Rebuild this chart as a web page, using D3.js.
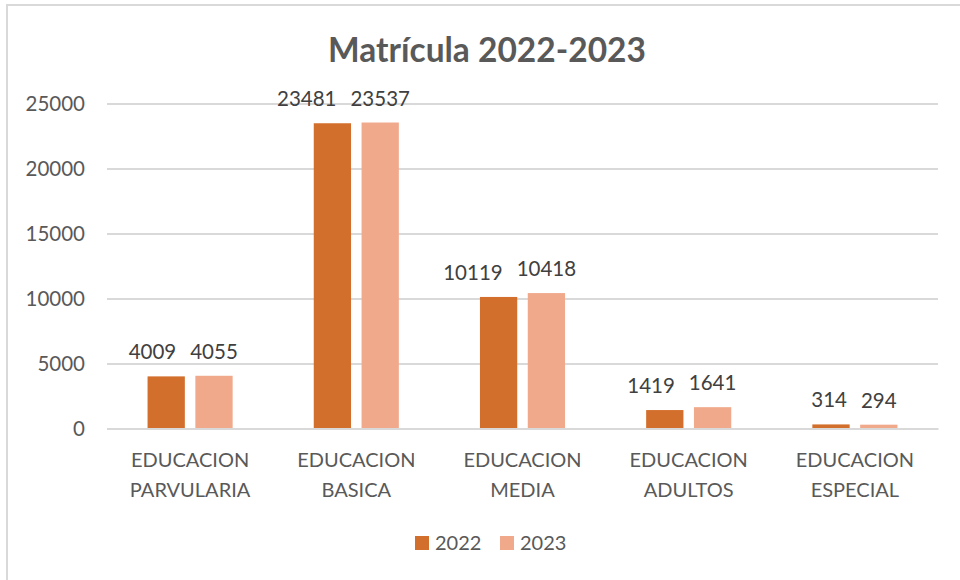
<!DOCTYPE html>
<html>
<head>
<meta charset="utf-8">
<script src="https://cdn.jsdelivr.net/npm/d3@7"></script>
<style>
  body { margin: 0; background: #fff; }
  text { font-family: Lato, "Open Sans", sans-serif; }
</style>
</head>
<body>
<div id="chart"></div>
<script>
let categories = [
  ['EDUCACION', 'PARVULARIA'],
  ['EDUCACION', 'BASICA'],
  ['EDUCACION', 'MEDIA'],
  ['EDUCACION', 'ADULTOS'],
  ['EDUCACION', 'ESPECIAL']
];
let series = ['2022', '2023'];
let values_2022 = [4009, 23481, 10119, 1419, 314];
let values_2023 = [4055, 23537, 10418, 1641, 294];
let y_ticks = [0, 5000, 10000, 15000, 20000, 25000];

let colors = { '2022': '#D36F2C', '2023': '#F1A98B' };

let chart_width = 960;
let chart_height = 580;

let svg = d3
  .select('#chart')
  .append('svg')
  .attr('width', chart_width)
  .attr('height', chart_height);

// outer frame (runs off the right/bottom edge)
svg
  .append('rect')
  .attr('x', 7)
  .attr('y', 5)
  .attr('width', 980)
  .attr('height', 600)
  .attr('fill', '#fff')
  .attr('stroke', '#D9D9D9')
  .attr('stroke-width', 2);

let rows = categories.map((c, i) => {
  return { key: c.join(' '), label: c, v: { '2022': values_2022[i], '2023': values_2023[i] } };
});

let x0 = d3
  .scaleBand()
  .domain(rows.map(d => d.key))
  .range([107, 938])
  .paddingInner(0.488)
  .paddingOuter(0.244);

let x1 = d3
  .scaleBand()
  .domain(series)
  .range([0, x0.bandwidth()])
  .paddingInner(0.22);

let y_scale = d3
  .scaleLinear()
  .domain([0, 25000])
  .range([428.5, 103.5]);

// gridlines
let y_axis = d3
  .axisLeft(y_scale)
  .tickValues(y_ticks)
  .tickSize(-(938 - 107))
  .tickPadding(22)
  .tickFormat(d3.format('d'));

svg
  .append('g')
  .attr('class', 'y-axis')
  .attr('transform', 'translate(107,0)')
  .call(y_axis)
  .call(g => g.select('.domain').remove())
  .call(g => g.selectAll('line').attr('stroke', '#D9D9D9').attr('stroke-width', 2))
  .call(g =>
    g.selectAll('text')
      .attr('fill', '#595959')
      .attr('font-size', 20.5)
      .attr('dy', '0.36em')
  );

// bars
let groups = svg
  .append('g')
  .selectAll('g')
  .data(rows)
  .enter()
  .append('g')
  .attr('transform', d => 'translate(' + x0(d.key) + ',0)');

groups
  .selectAll('rect')
  .data(d => series.map(s => ({ s: s, v: d.v[s] })))
  .enter()
  .append('rect')
  .attr('x', d => x1(d.s))
  .attr('y', d => y_scale(d.v))
  .attr('width', x1.bandwidth())
  .attr('height', d => y_scale(0) - y_scale(d.v))
  .attr('fill', d => colors[d.s]);

// data labels
groups
  .selectAll('text')
  .data(d => series.map(s => ({ s: s, v: d.v[s] })))
  .enter()
  .append('text')
  .attr('x', d => x1(d.s) + x1.bandwidth() / 2)
  .attr('y', d => y_scale(d.v) - 17)
  .attr('text-anchor', 'middle')
  .attr('font-size', 20.5)
  .attr('fill', '#404040')
  .text(d => d.v);

// push the first label left when the pair collides (like Excel does)
let label_gap = 14;
groups.each(function() {
  let labels = d3.select(this).selectAll('text').nodes();
  let a = labels[0], b = labels[1];
  let wa = a.getComputedTextLength(), wb = b.getComputedTextLength();
  let ax = +a.getAttribute('x'), bx = +b.getAttribute('x');
  let overlap = ax + wa / 2 + label_gap - (bx - wb / 2);
  if (overlap > 0) a.setAttribute('x', ax - overlap);
});

// x axis baseline
let x_axis = d3.axisBottom(x0).tickSize(0).tickFormat('');
let xg = svg
  .append('g')
  .attr('class', 'x-axis')
  .attr('transform', 'translate(0,' + y_scale(0) + ')')
  .call(x_axis);
xg.select('.domain').attr('stroke', '#D9D9D9').attr('stroke-width', 2);

// category labels (two lines)
svg
  .append('g')
  .selectAll('text')
  .data(rows)
  .enter()
  .append('text')
  .attr('text-anchor', 'middle')
  .attr('font-size', 20)
  .attr('fill', '#595959')
  .each(function(d) {
    let t = d3.select(this);
    let cx = x0(d.key) + x0.bandwidth() / 2;
    d.label.forEach((line, i) => {
      t.append('tspan')
        .attr('x', cx)
        .attr('y', 467 + i * 29.5)
        .text(line);
    });
  });

// title
svg
  .append('text')
  .attr('x', 487)
  .attr('y', 61.5)
  .attr('text-anchor', 'middle')
  .attr('font-size', 33.5)
  .attr('font-weight', 'bold')
  .attr('fill', '#595959')
  .text('Matrícula 2022-2023');

// legend
let legend_x = [415, 500];
let legend = svg
  .append('g')
  .selectAll('g')
  .data(series)
  .enter()
  .append('g')
  .attr('transform', (d, i) => 'translate(' + legend_x[i] + ',536)');

legend
  .append('rect')
  .attr('width', 14)
  .attr('height', 14)
  .attr('fill', d => colors[d]);

legend
  .append('text')
  .attr('x', 20)
  .attr('y', 14)
  .attr('font-size', 20)
  .attr('fill', '#595959')
  .text(d => d);
</script>
</body>
</html>
